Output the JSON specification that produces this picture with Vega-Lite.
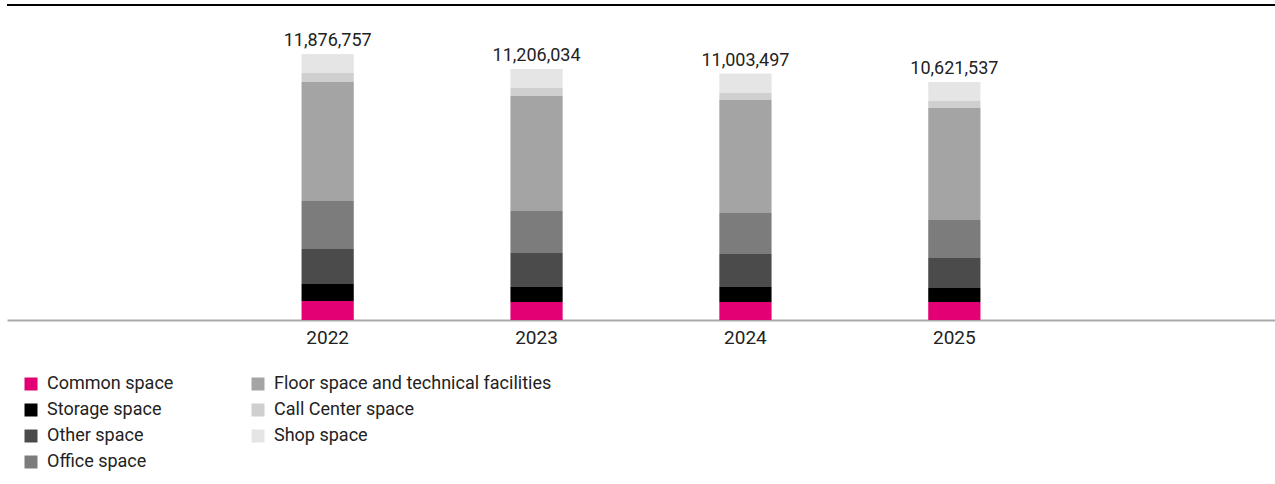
{
  "$schema": "https://vega.github.io/schema/vega-lite/v6.json",
  "width": 1268,
  "height": 315,
  "padding": {"left": 7, "top": 5, "right": 0, "bottom": 164},
  "autosize": {"type": "none"},
  "background": "white",
  "config": {"view": {"stroke": null}, "font": "Roboto"},
  "data": {
    "values": [
      {"year": "2022", "category": "Common space", "value": 848000},
      {"year": "2022", "category": "Storage space", "value": 759000},
      {"year": "2022", "category": "Other space", "value": 1563000},
      {"year": "2022", "category": "Office space", "value": 2143000},
      {"year": "2022", "category": "Floor space and technical facilities", "value": 5313000},
      {"year": "2022", "category": "Call Center space", "value": 402000},
      {"year": "2022", "category": "Shop space", "value": 848757},
      {"year": "2023", "category": "Common space", "value": 804000},
      {"year": "2023", "category": "Storage space", "value": 670000},
      {"year": "2023", "category": "Other space", "value": 1518000},
      {"year": "2023", "category": "Office space", "value": 1875000},
      {"year": "2023", "category": "Floor space and technical facilities", "value": 5135000},
      {"year": "2023", "category": "Call Center space", "value": 357000},
      {"year": "2023", "category": "Shop space", "value": 847034},
      {"year": "2024", "category": "Common space", "value": 804000},
      {"year": "2024", "category": "Storage space", "value": 670000},
      {"year": "2024", "category": "Other space", "value": 1473000},
      {"year": "2024", "category": "Office space", "value": 1831000},
      {"year": "2024", "category": "Floor space and technical facilities", "value": 5045000},
      {"year": "2024", "category": "Call Center space", "value": 313000},
      {"year": "2024", "category": "Shop space", "value": 867497},
      {"year": "2025", "category": "Common space", "value": 804000},
      {"year": "2025", "category": "Storage space", "value": 625000},
      {"year": "2025", "category": "Other space", "value": 1340000},
      {"year": "2025", "category": "Office space", "value": 1697000},
      {"year": "2025", "category": "Floor space and technical facilities", "value": 5001000},
      {"year": "2025", "category": "Call Center space", "value": 313000},
      {"year": "2025", "category": "Shop space", "value": 841537}
    ]
  },
  "encoding": {
    "x": {
      "field": "year",
      "type": "ordinal",
      "scale": {"domain": ["before", "2022", "2023", "2024", "2025", "after"], "paddingInner": 0.75, "paddingOuter": 0.41},
      "axis": {
        "title": null,
        "values": ["2022", "2023", "2024", "2025"],
        "labelAngle": 0,
        "ticks": false,
        "domainColor": "#aaaaaa",
        "domainWidth": 2,
        "labelFontSize": 19,
        "labelColor": "#222222",
        "labelPadding": 8
      }
    }
  },
  "layer": [
    {
      "transform": [
        {"calculate": "indexof(['Common space','Storage space','Other space','Office space','Floor space and technical facilities','Call Center space','Shop space'], datum.category)", "as": "stackOrder"}
      ],
      "mark": {"type": "bar"},
      "encoding": {
        "y": {
          "field": "value",
          "type": "quantitative",
          "stack": "zero",
          "scale": {"domain": [0, 14064000], "nice": false},
          "axis": null
        },
        "order": {"field": "stackOrder", "type": "quantitative", "sort": "ascending"},
        "color": {
          "field": "category",
          "type": "nominal",
          "sort": ["Common space", "Storage space", "Other space", "Office space", "Floor space and technical facilities", "Call Center space", "Shop space"],
          "scale": {
            "domain": ["Common space", "Storage space", "Other space", "Office space", "Floor space and technical facilities", "Call Center space", "Shop space"],
            "range": ["#e20074", "#000000", "#4b4b4b", "#7c7c7c", "#a4a4a4", "#cfcfcf", "#e5e5e5"]
          },
          "legend": {
            "orient": "none",
            "legendX": 15,
            "legendY": 370,
            "title": null,
            "columns": 2,
            "symbolType": "square",
            "symbolSize": 169,
            "symbolStrokeWidth": 0,
            "symbolOpacity": 1,
            "labelFontSize": 18,
            "labelColor": "#222222",
            "labelOffset": 7,
            "labelLimit": 500,
            "columnPadding": 75,
            "rowPadding": 8,
            "padding": 0
          }
        }
      }
    },
    {
      "mark": {"type": "text", "baseline": "alphabetic", "dy": -8, "fontSize": 18, "color": "#222222"},
      "encoding": {
        "y": {"aggregate": "sum", "field": "value", "type": "quantitative", "scale": {"domain": [0, 14064000], "nice": false}},
        "text": {"aggregate": "sum", "field": "value", "type": "quantitative", "format": ","}
      }
    },
    {
      "mark": {"type": "rule", "color": "#000000", "strokeWidth": 2},
      "encoding": {"y": {"datum": 14064000, "scale": {"domain": [0, 14064000], "nice": false}}, "x": null}
    }
  ]
}
